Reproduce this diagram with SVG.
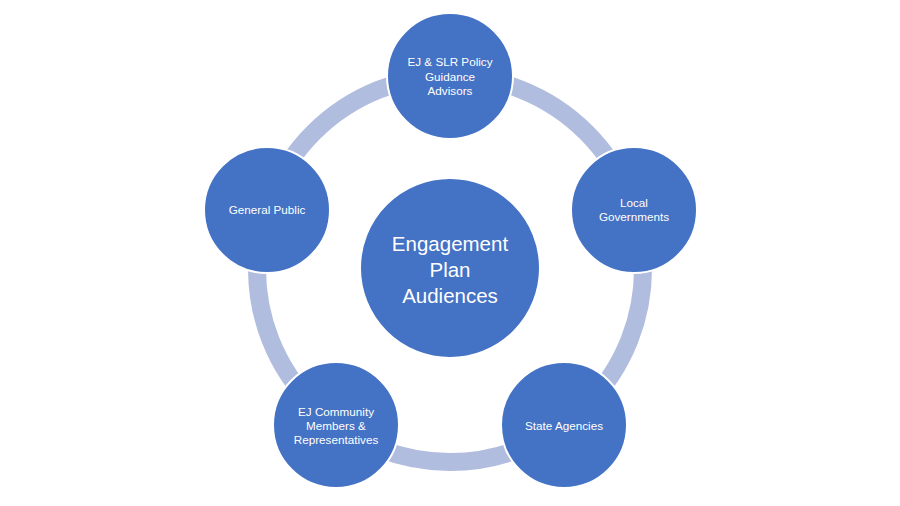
<svg xmlns="http://www.w3.org/2000/svg" width="900" height="506" viewBox="0 0 900 506">
<style>
.node{fill:#4472C4;stroke:#FFFFFF;stroke-width:2}
.lbl{font-family:"Liberation Sans",Arial,sans-serif;font-size:11.7px;fill:#FFFFFF;text-anchor:middle}
.big{font-family:"Liberation Sans",Arial,sans-serif;font-size:20.5px;fill:#FFFFFF;text-anchor:middle}
</style>
<rect width="900" height="506" fill="#FFFFFF"/>
<g id="connectors">
<circle cx="450" cy="269" r="193" fill="none" stroke="#B1BDDF" stroke-width="18"/>
</g>
<g id="center">
<circle class="node" cx="450" cy="268" r="90"/>
<text class="big" x="450" y="251">Engagement</text>
<text class="big" x="450" y="277">Plan</text>
<text class="big" x="450" y="303">Audiences</text>
</g>
<g id="policy-advisors">
<circle class="node" cx="450" cy="76" r="63"/>
<text class="lbl" x="450" y="66">EJ &amp; SLR Policy</text>
<text class="lbl" x="450" y="81">Guidance</text>
<text class="lbl" x="450" y="95">Advisors</text>
</g>
<g id="local-governments">
<circle class="node" cx="634" cy="210" r="63"/>
<text class="lbl" x="634" y="207">Local</text>
<text class="lbl" x="634" y="221">Governments</text>
</g>
<g id="state-agencies">
<circle class="node" cx="564" cy="425" r="63"/>
<text class="lbl" x="564" y="430">State Agencies</text>
</g>
<g id="ej-community">
<circle class="node" cx="336" cy="425" r="63"/>
<text class="lbl" x="336" y="416">EJ Community</text>
<text class="lbl" x="336" y="430">Members &amp;</text>
<text class="lbl" x="336" y="444">Representatives</text>
</g>
<g id="general-public">
<circle class="node" cx="267" cy="210" r="63"/>
<text class="lbl" x="267" y="214">General Public</text>
</g>
</svg>
